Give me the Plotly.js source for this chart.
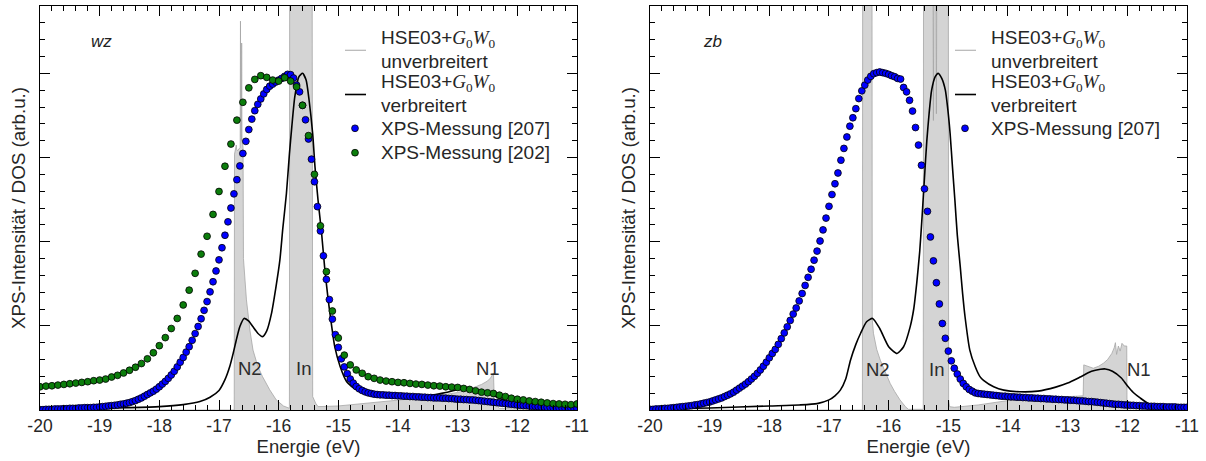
<!DOCTYPE html>
<html><head><meta charset="utf-8">
<script src="https://cdn.plot.ly/plotly-3.0.1.min.js"></script>
<style>html,body{margin:0;padding:0;background:#fff}#chart{width:1206px;height:461px}</style>
</head><body><div id="chart"></div>
<script>
// ---------- data ----------
const tickVals = [-20,-19,-18,-17,-16,-15,-14,-13,-12,-11];
const tickText = ['-20','-19','-18','-17','-16','-15','-14','-13','-12','-11'];

// XPS [207] energies (0.05 eV grid)
const xps207Energy = [
-20.00,-19.95,-19.90,-19.85,-19.80,-19.75,-19.70,-19.65,-19.60,-19.55,
-19.50,-19.45,-19.40,-19.35,-19.30,-19.25,-19.20,-19.15,-19.10,-19.05,
-19.00,-18.95,-18.90,-18.85,-18.80,-18.75,-18.70,-18.65,-18.60,-18.55,
-18.50,-18.45,-18.40,-18.35,-18.30,-18.25,-18.20,-18.15,-18.10,-18.05,
-18.00,-17.95,-17.90,-17.85,-17.80,-17.75,-17.70,-17.65,-17.60,-17.55,
-17.50,-17.45,-17.40,-17.35,-17.30,-17.25,-17.20,-17.15,-17.10,-17.05,
-17.00,-16.95,-16.90,-16.85,-16.80,-16.75,-16.70,-16.65,-16.60,-16.55,
-16.50,-16.45,-16.40,-16.35,-16.30,-16.25,-16.20,-16.15,-16.10,-16.05,
-16.00,-15.95,-15.90,-15.85,-15.80,-15.75,-15.70,-15.65,-15.60,-15.55,
-15.50,-15.45,-15.40,-15.35,-15.30,-15.25,-15.20,-15.15,-15.10,-15.05,
-15.00,-14.95,-14.90,-14.85,-14.80,-14.75,-14.70,-14.65,-14.60,-14.55,
-14.50,-14.45,-14.40,-14.35,-14.30,-14.25,-14.20,-14.15,-14.10,-14.05,
-14.00,-13.95,-13.90,-13.85,-13.80,-13.75,-13.70,-13.65,-13.60,-13.55,
-13.50,-13.45,-13.40,-13.35,-13.30,-13.25,-13.20,-13.15,-13.10,-13.05,
-13.00,-12.95,-12.90,-12.85,-12.80,-12.75,-12.70,-12.65,-12.60,-12.55,
-12.50,-12.45,-12.40,-12.35,-12.30,-12.25,-12.20,-12.15,-12.10,-12.05,
-12.00,-11.95,-11.90,-11.85,-11.80,-11.75,-11.70,-11.65,-11.60,-11.55,
-11.50,-11.45,-11.40,-11.35,-11.30,-11.25,-11.20,-11.15,-11.10,-11.05,
-11.00];

const wzXps207 = [
0.001,0.001,0.002,0.002,0.002,0.003,0.003,0.003,0.004,0.004,
0.005,0.005,0.005,0.006,0.006,0.007,0.007,0.007,0.008,0.008,
0.009,0.010,0.011,0.012,0.013,0.014,0.015,0.017,0.018,0.020,
0.022,0.025,0.028,0.032,0.036,0.041,0.046,0.051,0.056,0.062,
0.069,0.077,0.085,0.094,0.104,0.115,0.128,0.142,0.156,0.172,
0.188,0.207,0.227,0.248,0.271,0.296,0.322,0.351,0.381,0.413,
0.446,0.482,0.519,0.559,0.600,0.642,0.684,0.725,0.762,0.798,
0.833,0.864,0.889,0.908,0.924,0.939,0.952,0.962,0.968,0.974,
0.980,0.985,0.991,0.997,0.996,0.986,0.965,0.945,0.905,0.862,
0.805,0.745,0.678,0.604,0.532,0.458,0.388,0.328,0.270,0.224,
0.186,0.152,0.128,0.108,0.092,0.080,0.070,0.063,0.058,0.054,
0.051,0.049,0.047,0.046,0.045,0.045,0.044,0.044,0.043,0.043,
0.042,0.042,0.041,0.041,0.040,0.040,0.039,0.039,0.038,0.038,
0.037,0.037,0.036,0.036,0.036,0.035,0.035,0.034,0.034,0.033,
0.032,0.032,0.031,0.031,0.030,0.030,0.029,0.028,0.027,0.026,
0.025,0.024,0.023,0.022,0.021,0.020,0.019,0.018,0.017,0.016,
0.015,0.014,0.013,0.013,0.012,0.011,0.011,0.010,0.009,0.009,
0.008,0.008,0.007,0.007,0.006,0.006,0.005,0.005,0.005,0.004,
0.004];

const zbXps207 = [
0.002,0.002,0.003,0.003,0.004,0.005,0.005,0.006,0.007,0.008,
0.009,0.010,0.011,0.012,0.013,0.015,0.016,0.018,0.020,0.022,
0.024,0.027,0.030,0.033,0.036,0.040,0.044,0.048,0.053,0.059,
0.065,0.071,0.077,0.084,0.092,0.100,0.109,0.119,0.130,0.142,
0.155,0.168,0.180,0.195,0.212,0.229,0.247,0.266,0.285,0.303,
0.324,0.346,0.370,0.394,0.418,0.445,0.472,0.502,0.535,0.570,
0.605,0.640,0.672,0.704,0.742,0.777,0.811,0.843,0.868,0.895,
0.925,0.948,0.965,0.980,0.991,0.999,1.002,1.004,1.002,1.000,
0.997,0.993,0.990,0.985,0.983,0.958,0.945,0.920,0.888,0.839,
0.787,0.727,0.657,0.590,0.514,0.443,0.378,0.315,0.257,0.213,
0.175,0.146,0.124,0.107,0.092,0.079,0.069,0.061,0.056,0.051,
0.049,0.048,0.047,0.046,0.045,0.044,0.043,0.042,0.041,0.041,
0.040,0.039,0.039,0.038,0.038,0.037,0.037,0.036,0.036,0.035,
0.035,0.034,0.034,0.033,0.033,0.032,0.032,0.031,0.031,0.030,
0.030,0.029,0.029,0.028,0.027,0.027,0.026,0.025,0.025,0.024,
0.023,0.022,0.021,0.020,0.019,0.018,0.017,0.017,0.016,0.015,
0.015,0.014,0.014,0.013,0.013,0.012,0.012,0.011,0.011,0.011,
0.010,0.010,0.010,0.009,0.009,0.009,0.009,0.008,0.008,0.008,
0.008];

// XPS [202] energies (0.1 eV grid)
const xps202Energy = [
-20.0,-19.9,-19.8,-19.7,-19.6,-19.5,-19.4,-19.3,-19.2,-19.1,
-19.0,-18.9,-18.8,-18.7,-18.6,-18.5,-18.4,-18.3,-18.2,-18.1,
-18.0,-17.9,-17.8,-17.7,-17.6,-17.5,-17.4,-17.3,-17.2,-17.1,
-17.0,-16.9,-16.8,-16.7,-16.6,-16.5,-16.4,-16.3,-16.2,-16.1,
-16.0,-15.9,-15.8,-15.7,-15.6,-15.5,-15.4,-15.3,-15.2,-15.1,
-15.0,-14.9,-14.8,-14.7,-14.6,-14.5,-14.4,-14.3,-14.2,-14.1,
-14.0,-13.9,-13.8,-13.7,-13.6,-13.5,-13.4,-13.3,-13.2,-13.1,
-13.0,-12.9,-12.8,-12.7,-12.6,-12.5,-12.4,-12.3,-12.2,-12.1,
-12.0,-11.9,-11.8,-11.7,-11.6,-11.5,-11.4,-11.3,-11.2,-11.1,
-11.0];
const wzXps202 = [
0.069,0.071,0.072,0.074,0.076,0.078,0.080,0.082,0.084,0.087,
0.089,0.092,0.098,0.103,0.110,0.118,0.127,0.138,0.152,0.170,
0.191,0.215,0.242,0.272,0.312,0.356,0.406,0.463,0.516,0.581,
0.649,0.724,0.790,0.861,0.914,0.957,0.982,0.993,0.988,0.980,
0.977,0.987,0.977,0.960,0.905,0.815,0.700,0.547,0.411,0.294,
0.214,0.163,0.134,0.119,0.109,0.099,0.094,0.089,0.086,0.084,
0.082,0.081,0.079,0.077,0.076,0.074,0.072,0.071,0.069,0.068,
0.067,0.064,0.061,0.057,0.053,0.051,0.049,0.044,0.040,0.035,
0.032,0.030,0.027,0.025,0.023,0.021,0.019,0.018,0.017,0.016,
0.018];

// HSE03+G0W0 broadened (verbreitert)
const wzBroadE = [-20,-19,-18.5,-18,-17.6,-17.32,-17.15,-17.0,-16.9,-16.82,-16.76,-16.71,-16.65,-16.58,-16.5,-16.43,-16.35,-16.27,-16.2,-16.12,-16.05,-15.98,-15.93,-15.87,-15.82,-15.78,-15.73,-15.66,-15.6,-15.54,-15.49,-15.43,-15.39,-15.34,-15.28,-15.23,-15.17,-15.11,-15.06,-14.97,-14.86,-14.69,-14.42,-13.97,-13.7,-13.4,-13.2,-13.0,-12.9,-12.75,-12.6,-12.45,-12.3,-12.15,-12.0,-11.8,-11.5,-11.0];
const wzBroad = [0.002,0.005,0.007,0.010,0.016,0.025,0.038,0.058,0.090,0.129,0.170,0.208,0.248,0.272,0.264,0.247,0.228,0.218,0.235,0.287,0.360,0.445,0.540,0.643,0.760,0.841,0.930,0.990,1.000,0.980,0.920,0.820,0.720,0.623,0.524,0.425,0.327,0.247,0.188,0.129,0.084,0.059,0.045,0.038,0.039,0.045,0.052,0.060,0.062,0.061,0.055,0.047,0.035,0.025,0.018,0.010,0.005,0.002];
const zbBroadE = [-20,-19,-18,-17.5,-17.2,-17.0,-16.9,-16.81,-16.72,-16.64,-16.55,-16.47,-16.37,-16.27,-16.15,-16.0,-15.86,-15.75,-15.64,-15.58,-15.53,-15.48,-15.44,-15.40,-15.36,-15.32,-15.28,-15.22,-15.17,-15.11,-15.05,-15.01,-14.97,-14.93,-14.89,-14.85,-14.80,-14.76,-14.72,-14.64,-14.55,-14.47,-14.41,-14.24,-14.07,-13.8,-13.5,-13.2,-13.0,-12.8,-12.6,-12.45,-12.37,-12.25,-12.1,-12.0,-11.9,-11.78,-11.61,-11.4,-11.0];
const zbBroad = [0.003,0.006,0.012,0.015,0.019,0.030,0.042,0.059,0.092,0.148,0.195,0.228,0.262,0.272,0.242,0.188,0.168,0.188,0.247,0.300,0.376,0.470,0.574,0.690,0.801,0.885,0.950,0.990,1.000,0.985,0.950,0.895,0.821,0.720,0.623,0.520,0.425,0.345,0.277,0.178,0.129,0.099,0.088,0.069,0.059,0.054,0.056,0.068,0.080,0.097,0.115,0.121,0.122,0.115,0.095,0.072,0.052,0.035,0.015,0.006,0.002];

// HSE03+G0W0 unbroadened DOS (unverbreitert)
const wzDosE = [-20,-16.745,-16.74,-16.71,-16.705,-16.69,-16.645,-16.64,-16.635,-16.625,-16.62,-16.615,-16.597,-16.59,-16.54,-16.48,-16.43,-16.35,-16.27,-16.15,-16.04,-15.92,-15.82,-15.815,-15.44,-15.43,-15.38,-15.34,-15.0,-14.5,-14.0,-13.5,-13.0,-12.8,-12.6,-12.5,-12.45,-12.42,-12.40,-12.385,-12.3,-12.0,-11.0];
const wzDos = [0,0,0.76,0.787,0.775,0.77,0.78,1.155,0.82,0.80,1.09,0.80,0.78,0.45,0.327,0.235,0.178,0.13,0.099,0.06,0.03,0.012,0.005,1.5,1.5,0.04,0.02,0.01,0.012,0.02,0.028,0.038,0.052,0.062,0.076,0.086,0.095,0.106,0.11,0.02,0.005,0.003,0];
const zbDosE = [-20,-16.44,-16.435,-16.28,-16.275,-16.255,-16.2,-16.14,-16.05,-15.975,-15.9,-15.81,-15.72,-15.67,-15.42,-15.415,-15.26,-15.25,-15.24,-15.21,-15.20,-15.19,-15.0,-14.995,-14.98,-14.9,-14.5,-14.0,-13.5,-13.0,-12.74,-12.73,-12.65,-12.57,-12.48,-12.40,-12.33,-12.26,-12.22,-12.20,-12.18,-12.15,-12.12,-12.09,-12.05,-12.01,-12.005,-11.0];
const zbDos = [0,0,1.5,1.5,0.27,0.228,0.18,0.148,0.11,0.079,0.055,0.03,0.01,0.002,0.002,1.5,1.5,0.86,1.5,1.5,0.88,1.5,1.5,0.03,0.01,0.008,0.015,0.028,0.035,0.04,0.042,0.134,0.13,0.124,0.13,0.139,0.15,0.168,0.185,0.2,0.165,0.19,0.175,0.198,0.19,0.19,0,0];

const g0w0 = 'HSE03+<span style="font-family:\'Liberation Serif\',serif"><i>G</i><sub>0</sub><i>W</i><sub>0</sub></span>';
const legendLabels = [
  [g0w0, 'unverbreitert'],
  [g0w0, 'verbreitert'],
  ['XPS-Messung [207]'],
  ['XPS-Messung [202]']
];

// ---------- styles ----------
const GRAY_FILL = '#d4d4d4', GRAY_LINE = '#a6a6a6';
const BLUE = '#0000ff', GREEN = '#0b7d0b';
const FONT = 'Liberation Sans, Arial, sans-serif';
const TXT = '#262626';
const MSIZE = 6.8;
const mk = (c) => ({color: c, size: MSIZE, line: {color: '#000', width: 0.8}});

const traces = [
  {x: wzDosE, y: wzDos, xaxis: 'x', yaxis: 'y', mode: 'lines', fill: 'tozeroy', fillcolor: GRAY_FILL,
   line: {color: GRAY_LINE, width: 0.8}, hoverinfo: 'skip'},
  {x: wzBroadE, y: wzBroad, xaxis: 'x', yaxis: 'y', mode: 'lines', line: {color: '#000', width: 1.6, shape: 'spline', smoothing: 0.6}},
  {x: xps207Energy, y: wzXps207, xaxis: 'x', yaxis: 'y', mode: 'markers', marker: mk(BLUE)},
  {x: xps202Energy, y: wzXps202, xaxis: 'x', yaxis: 'y', mode: 'markers', marker: mk(GREEN)},
  {x: zbDosE, y: zbDos, xaxis: 'x2', yaxis: 'y2', mode: 'lines', fill: 'tozeroy', fillcolor: GRAY_FILL,
   line: {color: GRAY_LINE, width: 0.8}, hoverinfo: 'skip'},
  {x: zbBroadE, y: zbBroad, xaxis: 'x2', yaxis: 'y2', mode: 'lines', line: {color: '#000', width: 1.6, shape: 'spline', smoothing: 0.6}},
  {x: xps207Energy, y: zbXps207, xaxis: 'x2', yaxis: 'y2', mode: 'markers', marker: mk(BLUE)}
];

const xBase = {
  range: [-20, -11], tickvals: tickVals, ticktext: tickText,
  ticks: 'inside', ticklen: 10, tickwidth: 1, tickcolor: '#000',
  minor: {dtick: 0.2, tick0: -20, ticks: 'inside', ticklen: 5, tickwidth: 1, tickcolor: '#000'},
  showline: true, linecolor: '#000', linewidth: 1.2, mirror: 'allticks',
  showgrid: false, zeroline: false, fixedrange: true,
  tickfont: {size: 17.5, color: TXT, family: FONT},
  title: {text: 'Energie (eV)', font: {size: 18.5, color: TXT, family: FONT}, standoff: 3}
};
const yBase = {
  range: [0, 1.2], tick0: 0, dtick: 0.25,
  ticks: 'inside', ticklen: 10, tickwidth: 1, tickcolor: '#000',
  minor: {dtick: 0.05, tick0: 0, ticks: 'inside', ticklen: 5, tickwidth: 1, tickcolor: '#000'},
  showline: true, linecolor: '#000', linewidth: 1.2, mirror: 'allticks',
  showgrid: false, zeroline: false, showticklabels: false, fixedrange: true,
  title: {text: 'XPS-Intensität / DOS (arb.u.)', font: {size: 18.8, color: TXT, family: FONT}, standoff: 8}
};

// ---------- page geometry (pixels) for the hand-placed legend ----------
const M = {l: 40, r: 19, t: 6, b: 51};
const PW = 1206 - M.l - M.r, PH = 461 - M.t - M.b;
const px = (v) => (v - M.l) / PW;
const py = (v) => (461 - M.b - v) / PH;

const annFont = {size: 18.5, color: '#2b2b2b', family: FONT};
const annotations = [
  {text: '<i>wz</i>', x: -18.975, y: 1.095, xref: 'x', yref: 'y', showarrow: false, font: {size: 17, color: '#222', family: FONT}},
  {text: '<i>zb</i>', x: -18.96, y: 1.095, xref: 'x2', yref: 'y2', showarrow: false, font: {size: 17, color: '#222', family: FONT}},
  {text: 'N2', x: -16.48, y: 0.122, xref: 'x', yref: 'y', showarrow: false, font: annFont},
  {text: 'In', x: -15.58, y: 0.122, xref: 'x', yref: 'y', showarrow: false, font: annFont},
  {text: 'N1', x: -12.5, y: 0.122, xref: 'x', yref: 'y', showarrow: false, font: annFont},
  {text: 'N2', x: -16.185, y: 0.119, xref: 'x2', yref: 'y2', showarrow: false, font: annFont},
  {text: 'In', x: -15.2, y: 0.119, xref: 'x2', yref: 'y2', showarrow: false, font: annFont},
  {text: 'N1', x: -11.81, y: 0.119, xref: 'x2', yref: 'y2', showarrow: false, font: annFont}
];
const shapes = [];

function addLegend(left, entries) {
  const symX = left, txtX = left + 34;
  entries.forEach(([kind, lines, ys, color]) => {
    lines.forEach((t, i) => annotations.push({
      text: t, x: px(txtX), y: py(ys[i]), xref: 'paper', yref: 'paper',
      xanchor: 'left', yanchor: 'middle', showarrow: false,
      font: {size: 19, color: TXT, family: FONT}
    }));
    const cy = ys.length > 1 ? (ys[0] + ys[1]) / 2 : ys[0];
    if (kind === 'line') {
      shapes.push({type: 'line', xref: 'paper', yref: 'paper', x0: px(symX), x1: px(symX + 21), y0: py(cy), y1: py(cy),
        line: {color: color, width: color === '#000' ? 1.6 : 1}});
    } else {
      shapes.push({type: 'circle', xref: 'paper', yref: 'paper', xsizemode: 'pixel', ysizemode: 'pixel',
        xanchor: px(symX + 10), yanchor: py(cy), x0: -MSIZE / 2, x1: MSIZE / 2, y0: -MSIZE / 2, y1: MSIZE / 2,
        fillcolor: color, line: {color: '#000', width: 0.8}});
    }
  });
}
const rowY = {a: [39.5, 61], b: [83.5, 105.5], c: [128.3], d: [152.7]};
addLegend(345, [
  ['line', legendLabels[0], rowY.a, GRAY_LINE],
  ['line', legendLabels[1], rowY.b, '#000'],
  ['dot', legendLabels[2], rowY.c, BLUE],
  ['dot', legendLabels[3], rowY.d, GREEN]
]);
addLegend(955, [
  ['line', legendLabels[0], rowY.a, GRAY_LINE],
  ['line', legendLabels[1], rowY.b, '#000'],
  ['dot', legendLabels[2], rowY.c, BLUE]
]);

const layout = {
  width: 1206, height: 461,
  margin: {l: M.l, r: M.r, t: M.t, b: M.b, pad: 0},
  paper_bgcolor: '#fff', plot_bgcolor: '#fff',
  font: {family: FONT, color: TXT},
  xaxis: Object.assign({}, xBase, {domain: [0, 0.46818], anchor: 'y'}),
  yaxis: Object.assign({}, yBase, {domain: [0, 1], anchor: 'x'}),
  xaxis2: Object.assign({}, xBase, {domain: [0.53182, 1], anchor: 'y2'}),
  yaxis2: Object.assign({}, yBase, {domain: [0, 1], anchor: 'x2'}),
  annotations: annotations,
  shapes: shapes,
  showlegend: false
};

Plotly.newPlot('chart', traces, layout, {displayModeBar: false, staticPlot: true});
</script></body></html>
